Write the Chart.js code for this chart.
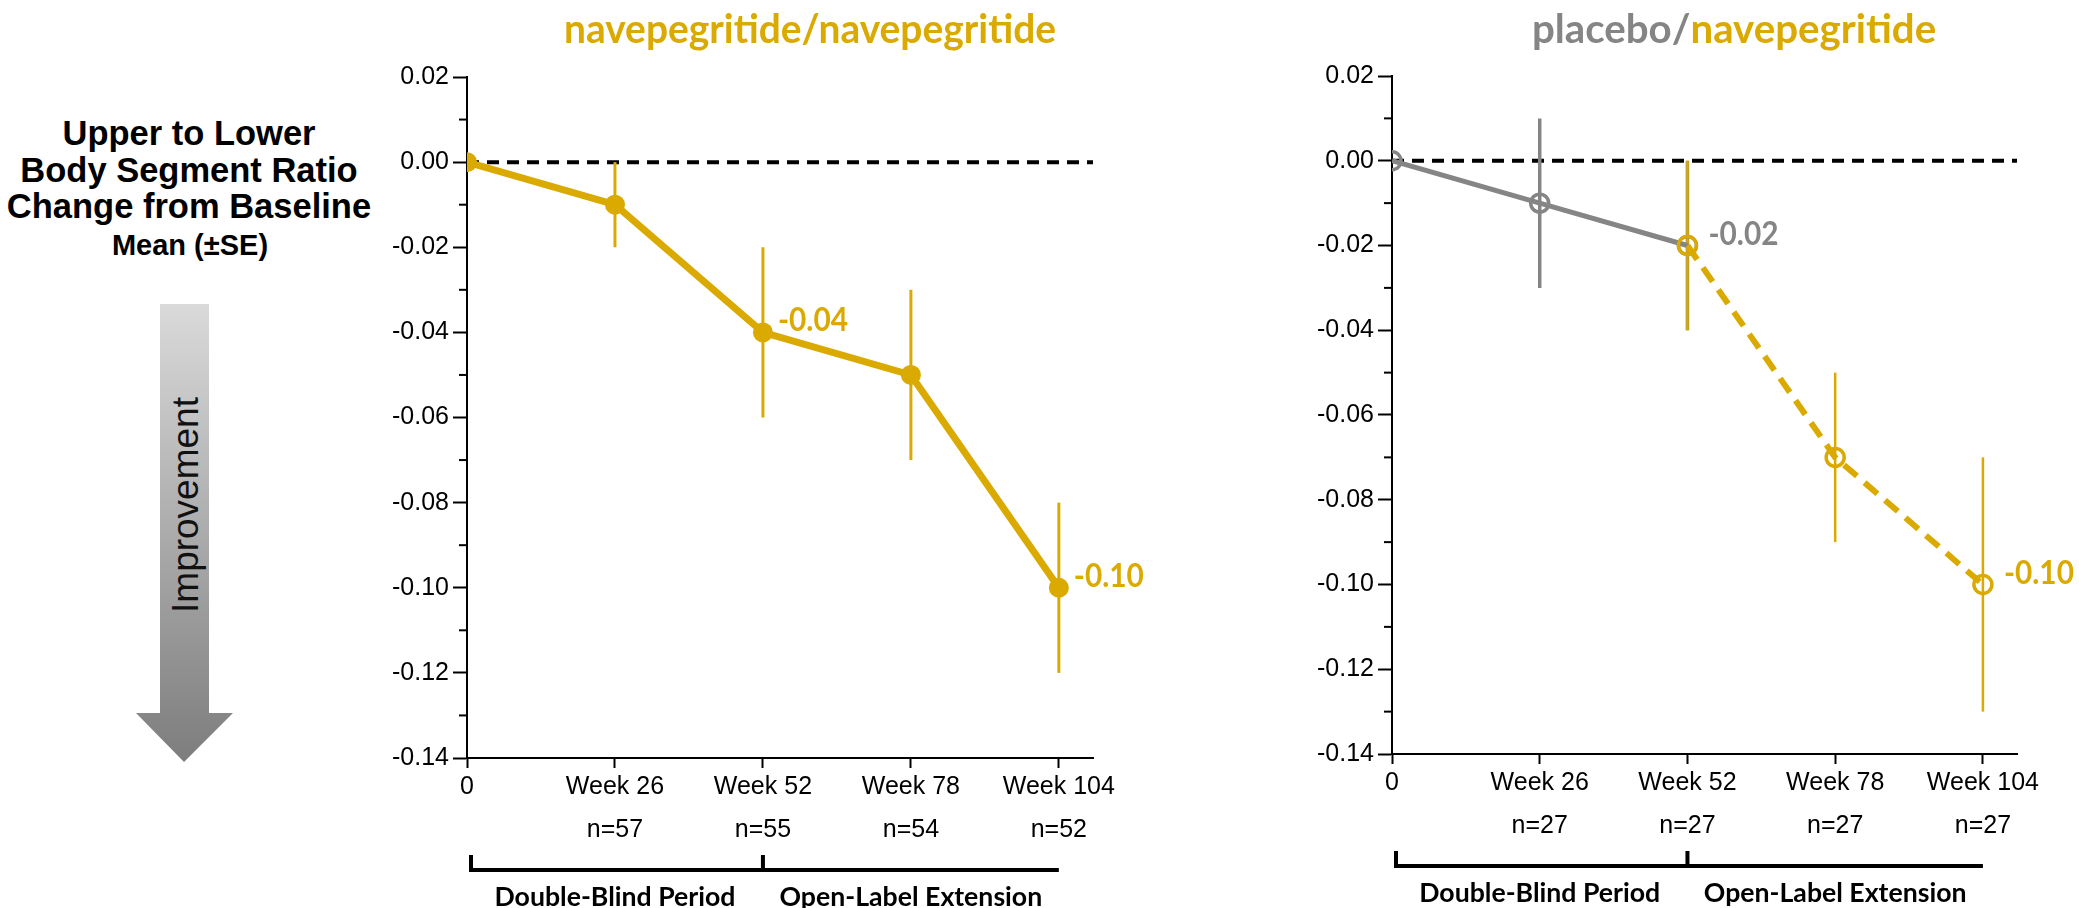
<!DOCTYPE html>
<html>
<head>
<meta charset="utf-8">
<title>Upper to Lower Body Segment Ratio</title>
<script src="https://cdn.jsdelivr.net/npm/chart.js@4.4.1/dist/chart.umd.min.js"></script>
<style>
  html, body { margin: 0; padding: 0; background: #fff; }
  body { width: 2079px; height: 908px; position: relative; overflow: hidden; }
  canvas, svg { position: absolute; top: 0; }
</style>
</head>
<body>
<svg id="side" width="380" height="908" style="left:0" xmlns="http://www.w3.org/2000/svg">
  <defs>
    <linearGradient id="arrowFill" gradientUnits="userSpaceOnUse" x1="0" y1="304" x2="0" y2="762">
      <stop offset="0" stop-color="#dadada"/>
      <stop offset="1" stop-color="#7d7d7d"/>
    </linearGradient>
  </defs>
  <g font-family="'Liberation Sans', Arial, sans-serif" font-weight="bold" fill="#000" text-anchor="middle">
    <text x="189" y="145" font-size="34.5">Upper to Lower</text>
    <text x="189" y="182" font-size="34.5">Body Segment Ratio</text>
    <text x="189" y="218" font-size="34.5">Change from Baseline</text>
    <text x="190" y="255" font-size="29">Mean (±SE)</text>
  </g>
  <polygon points="160,304 209,304 209,713 233,713 184,762 136,713 160,713" fill="url(#arrowFill)"/>
  <text transform="translate(198,505) rotate(-90)" text-anchor="middle"
        font-family="'Liberation Sans', Arial, sans-serif" font-size="37" fill="#111">Improvement</text>
</svg>
<canvas id="leftChart" width="860" height="908" style="left:380px"></canvas>
<canvas id="rightChart" width="839" height="908" style="left:1240px"></canvas>

<script>
// ---- data ----
const weeks = [0, 26, 52, 78, 104];
const xTickLabels = ['0', 'Week 26', 'Week 52', 'Week 78', 'Week 104'];

// navepegritide/navepegritide arm
const navMean = [0.00, -0.01, -0.04, -0.05, -0.10];
const navSE   = [0.00, 0.01, 0.02, 0.02, 0.02];
const navN    = ['', 'n=57', 'n=55', 'n=54', 'n=52'];
const navLabelled = [2, 4];

// placebo/navepegritide arm: placebo through week 52, then open-label navepegritide
const placeboWeeks = [0, 26, 52];
const placeboMean  = [0.00, -0.01, -0.02];
const placeboSE    = [0.00, 0.02, 0.02];
const oleWeeks = [52, 78, 104];
const oleMean  = [-0.02, -0.07, -0.10];
const oleSE    = [0.02, 0.02, 0.03];
const crossN   = ['', 'n=27', 'n=27', 'n=27', 'n=27'];

const periodLabels = ['Double-Blind Period', 'Open-Label Extension'];
const periodBounds = [0, 52, 104];
const referenceValue = 0;

// ---- styling ----
const GOLD = '#DAAA00';
const GREY = '#858585';
const ARIAL = '"Liberation Sans", Arial, sans-serif';
const HEAD = 'Lato, "Open Sans", sans-serif';
const X_MAX = 110, Y_MIN = -0.14, Y_MAX = 0.02;

// horizontal squeeze that brings a bold heading font to a given width
function squeeze(text, size, targetWidth) {
  const c = document.createElement('canvas').getContext('2d');
  c.font = 'bold ' + size + 'px ' + HEAD;
  return targetWidth / c.measureText(text).width;
}
const VALUE_SIZE = 32, PERIOD_SIZE = 27.5, TITLE_SIZE = 41;
const valueSqueeze  = squeeze('-0.04', VALUE_SIZE, 70);
const periodSqueeze = squeeze('Double-Blind Period', PERIOD_SIZE, 241);

function drawSqueezed(ctx, text, x, y, sx) {
  ctx.save();
  ctx.translate(x, y);
  ctx.scale(sx, 1);
  ctx.fillText(text, 0, 0);
  ctx.restore();
}

const isMajor = v => Math.round(v * 100) % 2 === 0;

const overlay = {
  id: 'overlay',
  beforeDatasetsDraw(chart, args, o) {
    const { ctx, chartArea: ca } = chart;
    const xs = chart.scales.x, ys = chart.scales.y;
    ctx.save();
    // dashed reference line at zero change
    ctx.strokeStyle = '#000';
    ctx.lineWidth = 4;
    ctx.setLineDash([12, 8]);
    const y0 = ys.getPixelForValue(referenceValue);
    ctx.beginPath(); ctx.moveTo(ca.left, y0); ctx.lineTo(ca.right, y0); ctx.stroke();
    ctx.setLineDash([]);
    // SE bars
    for (const bar of o.errorBars) {
      ctx.strokeStyle = bar.color;
      ctx.lineWidth = bar.width;
      bar.x.forEach((xv, i) => {
        const se = bar.se[i];
        if (!se) return;
        const px = xs.getPixelForValue(xv);
        ctx.beginPath();
        ctx.moveTo(px, ys.getPixelForValue(bar.mean[i] + se));
        ctx.lineTo(px, ys.getPixelForValue(bar.mean[i] - se));
        ctx.stroke();
      });
    }
    ctx.restore();
  },
  afterDraw(chart, args, o) {
    const { ctx, chartArea: ca } = chart;
    const xs = chart.scales.x, ys = chart.scales.y;
    ctx.save();

    // minor y ticks
    ctx.strokeStyle = '#000';
    ctx.lineWidth = 2;
    ys.ticks.forEach((t, i) => {
      if (isMajor(t.value)) return;
      const py = ys.getPixelForTick(i);
      ctx.beginPath(); ctx.moveTo(ca.left - 8, py); ctx.lineTo(ca.left, py); ctx.stroke();
    });

    // two-colour title
    const full = o.title.map(s => s.text).join('');
    const tsx = squeeze(full, TITLE_SIZE, o.titleWidth);
    ctx.font = 'bold ' + TITLE_SIZE + 'px ' + HEAD;
    ctx.textBaseline = 'alphabetic';
    ctx.textAlign = 'left';
    const total = ctx.measureText(full).width * tsx;
    let tx = (ca.left + ca.right) / 2 + o.titleDx - total / 2;
    for (const seg of o.title) {
      ctx.fillStyle = seg.color;
      drawSqueezed(ctx, seg.text, tx, 43, tsx);
      tx += ctx.measureText(seg.text).width * tsx;
    }

    // value labels beside selected points
    ctx.font = 'bold ' + VALUE_SIZE + 'px ' + HEAD;
    for (const lb of o.valueLabels) {
      ctx.fillStyle = lb.color;
      drawSqueezed(ctx, lb.y.toFixed(2), xs.getPixelForValue(lb.x) + o.labelDx,
                   ys.getPixelForValue(lb.y) - 1, valueSqueeze);
    }

    // sample sizes
    ctx.font = '25px ' + ARIAL;
    ctx.fillStyle = '#000';
    ctx.textAlign = 'center';
    ctx.textBaseline = 'middle';
    weeks.forEach((w, i) => {
      if (o.nLabels[i]) ctx.fillText(o.nLabels[i], xs.getPixelForValue(w), ca.bottom + 72);
    });

    // study period bracket
    const bx = periodBounds.map(v => xs.getPixelForValue(v));
    const lineY = ca.bottom + 112;
    ctx.strokeStyle = '#000';
    ctx.lineWidth = 4;
    ctx.beginPath();
    ctx.moveTo(bx[0] + 4, lineY); ctx.lineTo(bx[2], lineY);
    ctx.moveTo(bx[0] + 4, ca.bottom + 97); ctx.lineTo(bx[0] + 4, lineY + 2);
    ctx.moveTo(bx[1], ca.bottom + 97); ctx.lineTo(bx[1], lineY + 2);
    ctx.stroke();

    ctx.font = 'bold ' + PERIOD_SIZE + 'px ' + HEAD;
    ctx.textBaseline = 'alphabetic';
    periodLabels.forEach((t, i) => {
      drawSqueezed(ctx, t, (bx[i] + bx[i + 1]) / 2, ca.bottom + 148, periodSqueeze);
    });
    ctx.restore();
  }
};

const tickFont = { family: ARIAL, size: 25 };

function buildChart(id, datasets, o) {
  return new Chart(document.getElementById(id), {
    type: 'line',
    data: { datasets },
    options: {
      responsive: false,
      animation: false,
      devicePixelRatio: 1,
      events: [],
      layout: { padding: o.padding },
      plugins: { legend: { display: false }, tooltip: { enabled: false }, overlay: o },
      scales: {
        x: {
          type: 'linear', min: 0, max: X_MAX,
          afterBuildTicks: s => { s.ticks = weeks.map(v => ({ value: v })); },
          afterFit: s => { s.height = 40; },
          ticks: {
            callback: v => xTickLabels[weeks.indexOf(v)],
            autoSkip: false, maxRotation: 0, padding: 4,
            font: tickFont, color: '#000'
          },
          grid: { drawOnChartArea: false, drawTicks: true, tickLength: 10, tickWidth: 2, tickColor: '#000' },
          border: { display: true, color: '#000', width: 2 }
        },
        y: {
          type: 'linear', min: Y_MIN, max: Y_MAX,
          afterFit: s => { s.width = 87; },
          ticks: {
            stepSize: 0.01, autoSkip: false, padding: 4,
            callback: v => isMajor(v) ? v.toFixed(2) : '',
            font: tickFont, color: '#000'
          },
          grid: {
            drawOnChartArea: false, drawTicks: true, tickLength: 14, tickWidth: 2,
            tickColor: c => (!c.tick || isMajor(c.tick.value)) ? '#000' : 'rgba(0,0,0,0)'
          },
          border: { display: true, color: '#000', width: 2 }
        }
      }
    },
    plugins: [overlay]
  });
}

const toPoints = (xs, ys) => xs.map((x, i) => ({ x, y: ys[i] }));
const edgeClip = { left: 0, top: false, right: false, bottom: false };

// left panel: navepegritide/navepegritide
buildChart('leftChart', [
  {
    data: toPoints(weeks, navMean),
    borderColor: GOLD, borderWidth: 7, tension: 0,
    pointRadius: 10, pointBackgroundColor: GOLD, pointBorderColor: GOLD, pointBorderWidth: 0,
    clip: edgeClip
  }
], {
  padding: { left: 0, right: 147, top: 77, bottom: 110 },
  title: [{ text: 'navepegritide/navepegritide', color: GOLD }],
  titleWidth: 492, titleDx: 30,
  labelDx: 15,
  errorBars: [{ x: weeks, mean: navMean, se: navSE, color: GOLD, width: 3 }],
  valueLabels: navLabelled.map(i => ({ x: weeks[i], y: navMean[i], color: GOLD })),
  nLabels: navN
});

// right panel: placebo/navepegritide
buildChart('rightChart', [
  {
    data: toPoints(oleWeeks, oleMean), order: 1,
    borderColor: GOLD, borderWidth: 6, borderDash: [17, 10], tension: 0,
    pointRadius: 9, pointBackgroundColor: 'rgba(0,0,0,0)', pointBorderColor: GOLD, pointBorderWidth: 3.5,
    clip: edgeClip
  },
  {
    data: toPoints(placeboWeeks, placeboMean), order: 2,
    borderColor: GREY, borderWidth: 5, tension: 0,
    pointRadius: 9, pointBackgroundColor: 'rgba(0,0,0,0)', pointBorderColor: GREY, pointBorderWidth: 3.5,
    clip: edgeClip
  }
], {
  padding: { left: 65, right: 62, top: 76, bottom: 114 },
  title: [{ text: 'placebo/', color: GREY }, { text: 'navepegritide', color: GOLD }],
  titleWidth: 403, titleDx: 29,
  labelDx: 21,
  errorBars: [
    { x: placeboWeeks, mean: placeboMean, se: placeboSE, color: GREY, width: 3.5 },
    { x: oleWeeks, mean: oleMean, se: oleSE, color: GOLD, width: 2.5 }
  ],
  valueLabels: [
    { x: placeboWeeks[2], y: placeboMean[2], color: GREY },
    { x: oleWeeks[2], y: oleMean[2], color: GOLD }
  ],
  nLabels: crossN
});
</script>
</body>
</html>
